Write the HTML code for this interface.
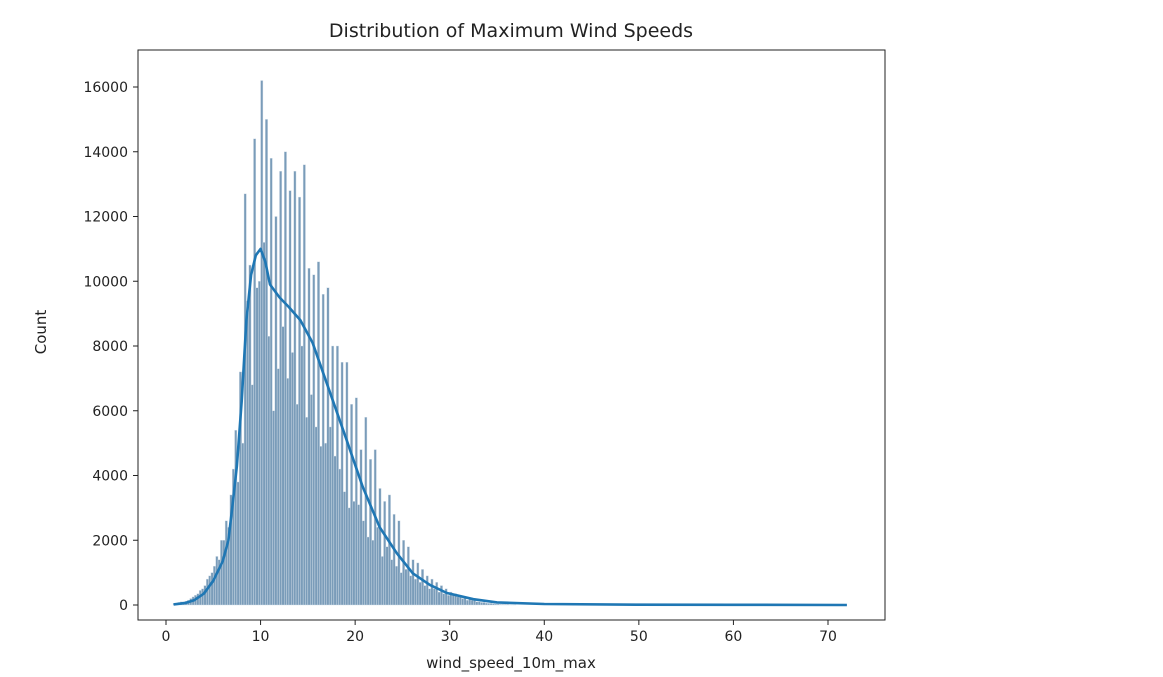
<!DOCTYPE html>
<html><head><meta charset="utf-8"><style>
body{margin:0;background:#fff;}
svg{display:block;font-family:"DejaVu Sans","Liberation Sans",sans-serif;}
</style></head><body>
<svg id="chart" width="1163" height="677">
<text x="511" y="37" font-size="19" text-anchor="middle" fill="#222">Distribution of Maximum Wind Speeds</text>
<g id="bars"></g>
<path id="kde" fill="none" stroke="#1f77b4" stroke-width="2.6" stroke-linejoin="round"/>
<rect x="138" y="50" width="747" height="570" fill="none" stroke="#222" stroke-width="1"/>
<g id="xticks"></g>
<g id="yticks"></g>
<text x="511" y="668" font-size="15" text-anchor="middle" fill="#222">wind_speed_10m_max</text>
<text x="0" y="0" font-size="15" text-anchor="middle" fill="#222" transform="translate(46,332) rotate(-90)">Count</text>
</svg>
<script>
const binStart = 0.75;
const binWidth = 0.25;
const counts = [
0.05,0.05,0.08,0.1,0.1,0.12,0.15,0.2,0.25,
0.3,0.35,0.45,0.5, 0.6,0.8,0.9,1.0, 1.2,1.5,1.4,2.0, 2.0,2.6,2.4,3.4,
4.2,5.4,3.8,7.2, 5.0,12.7,9.4,10.5, 6.8,14.4,9.8,10.0, 16.2,11.2,15.0,8.3,
13.8,6.0,12.0,7.3, 13.4,8.6,14.0,7.0, 12.8,7.8,13.4,6.2, 12.6,8.0,13.6,5.8,
10.4,6.5,10.2,5.5, 10.6,4.9,9.6,5.0, 9.8,5.5,8.0,4.6, 8.0,4.2,7.5,3.5,
7.5,3.0,6.2,3.2, 6.4,3.1,4.8,2.6, 5.8,2.1,4.5,2.0, 4.8,2.4,3.6,1.5,
3.2,1.8,3.4,1.4, 2.8,1.2,2.6,1.0, 2.0,1.1,1.8,0.9, 1.4,0.8,1.3,0.7,
1.1,0.6,0.9,0.5, 0.8,0.5,0.7,0.4, 0.6,0.35,0.5,0.3, 0.4,0.3,0.35,0.25,
0.3,0.2,0.25,0.15, 0.2,0.15,0.15,0.1, 0.1,0.08,0.08,0.06,0.05,0.05,0.04,0.03,
0.03,0.02,0.02,0.02,0.02,0.01,0.01,0.01
];
const kdeX = [0.8,2,3,4,5,6,6.6,7,7.5,8,8.5,9,9.5,10,10.5,11,12,13,14.2,15.5,17.3,19.1,20.8,22.6,24.4,26.1,27.9,29.7,32.5,35,40,50,60,72];
const kdeY = [0.02,0.06,0.15,0.35,0.75,1.35,2.0,3.0,4.3,6.3,8.8,10.2,10.8,11.0,10.6,9.9,9.5,9.2,8.8,8.1,6.6,5.1,3.65,2.4,1.6,0.98,0.62,0.37,0.18,0.08,0.03,0.01,0.005,0];
const xTicks = [0,10,20,30,40,50,60,70];
const yTicks = [0,2000,4000,6000,8000,10000,12000,14000,16000];

const NS = "http://www.w3.org/2000/svg";
const sx = v => 166 + v * 9.457;
const sy = v => 605 - v * 0.032375;

const bars = document.getElementById('bars');
counts.forEach((c, i) => {
  const x0 = sx(binStart + i * binWidth), x1 = sx(binStart + (i + 1) * binWidth);
  const r = document.createElementNS(NS, 'rect');
  r.setAttribute('x', x0);
  r.setAttribute('width', x1 - x0);
  r.setAttribute('y', sy(c * 1000));
  r.setAttribute('height', sy(0) - sy(c * 1000));
  r.setAttribute('fill', '#7a9cb9');
  r.setAttribute('stroke', '#d5e0ea');
  r.setAttribute('stroke-width', '0.4');
  
  
  bars.appendChild(r);
});

let d = '';
kdeX.forEach((x, i) => { d += (i ? 'L' : 'M') + sx(x).toFixed(1) + ',' + sy(kdeY[i] * 1000).toFixed(1); });
document.getElementById('kde').setAttribute('d', d);

const xg = document.getElementById('xticks');
xTicks.forEach(t => {
  const l = document.createElementNS(NS, 'line');
  l.setAttribute('x1', sx(t)); l.setAttribute('x2', sx(t));
  l.setAttribute('y1', 620); l.setAttribute('y2', 625);
  l.setAttribute('stroke', '#222');
  
  
  xg.appendChild(l);
  const tx = document.createElementNS(NS, 'text');
  tx.setAttribute('x', sx(t)); tx.setAttribute('y', 641);
  tx.setAttribute('font-size', '14'); tx.setAttribute('text-anchor', 'middle'); tx.setAttribute('fill', '#222');
  
  
  tx.textContent = t;
  xg.appendChild(tx);
});
const yg = document.getElementById('yticks');
yTicks.forEach(t => {
  const l = document.createElementNS(NS, 'line');
  l.setAttribute('x1', 133); l.setAttribute('x2', 138);
  l.setAttribute('y1', sy(t)); l.setAttribute('y2', sy(t));
  l.setAttribute('stroke', '#222');
  
  
  yg.appendChild(l);
  const tx = document.createElementNS(NS, 'text');
  tx.setAttribute('x', 128); tx.setAttribute('y', sy(t) + 5);
  tx.setAttribute('font-size', '14'); tx.setAttribute('text-anchor', 'end'); tx.setAttribute('fill', '#222');
  
  
  tx.textContent = t;
  yg.appendChild(tx);
});
</script>
</body></html>
